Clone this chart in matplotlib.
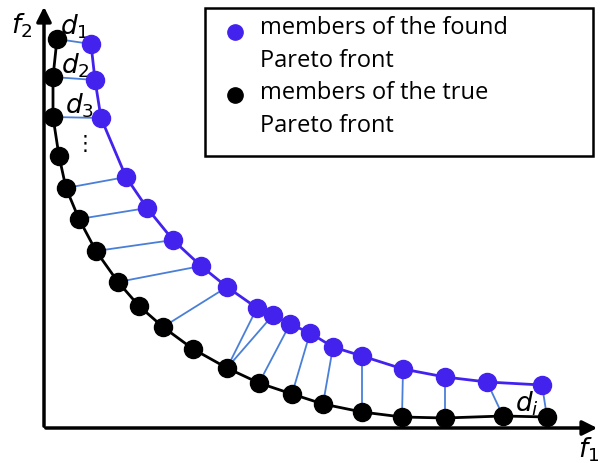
import matplotlib.pyplot as plt
from matplotlib.patches import Rectangle

# true Pareto front (f1, f2)
true_f1 = [13, 9, 9, 15, 22, 35, 52, 74, 95, 119, 149, 183, 215, 248, 279, 318, 358, 401, 459, 503]
true_f2 = [389, 351, 311, 272, 240, 209, 177, 146, 122, 101, 79, 60, 45, 34, 24, 16, 11, 10, 12, 11]

# found Pareto front (f1, f2)
found_f1 = [47, 51, 57, 82, 103, 129, 157, 183, 213, 229, 246, 266, 289, 318, 359, 401, 443, 498]
found_f2 = [384, 348, 310, 251, 220, 188, 162, 141, 120, 113, 104, 95, 81, 72, 59, 51, 46, 43]

# index of the nearest true member for each found member
nearest = [0, 1, 2, 4, 5, 6, 7, 9, 11, 11, 12, 13, 14, 15, 16, 17, 18, 19]

purple = '#4422ee'
link = '#4a7fd8'

plt.rcParams['font.family'] = ['Open Sans', 'DejaVu Sans']
plt.rcParams['mathtext.fontset'] = 'dejavusans'

fig = plt.figure(figsize=(6.03, 4.63), dpi=100)
ax = fig.add_axes([0, 0, 1, 1])
ax.set_xlim(-44, 559)
ax.set_ylim(-35, 428)
ax.axis('off')

# axes with arrows
ax.annotate('', xy=(556, 0), xytext=(-1, 0),
            arrowprops=dict(arrowstyle='-|>', color='black', lw=2.5, mutation_scale=22))
ax.annotate('', xy=(0, 424), xytext=(0, -1),
            arrowprops=dict(arrowstyle='-|>', color='black', lw=2.5, mutation_scale=22))
ax.text(545, -22, r'$f_{\mathit{1}}$', fontsize=19, ha='center', va='center')
ax.text(-22, 402, r'$f_2$', fontsize=19, ha='center', va='center')

# distances between found and true members
for i, j in enumerate(nearest):
    ax.plot([found_f1[i], true_f1[j]], [found_f2[i], true_f2[j]],
            color=link, lw=1.3, zorder=2)

ax.plot(true_f1, true_f2, color='black', lw=2, zorder=3)
ax.plot(found_f1, found_f2, color=purple, lw=2, zorder=3)
ax.plot(true_f1, true_f2, 'o', color='black', ms=13, zorder=4)
ax.plot(found_f1, found_f2, 'o', color=purple, ms=13, zorder=4)

# distance labels
ax.text(30, 401, r'$d_{\mathit{1}}$', fontsize=19, ha='center', va='center')
ax.text(31, 362, r'$d_{\mathit{2}}$', fontsize=19, ha='center', va='center')
ax.text(35, 322, r'$d_{\mathit{3}}$', fontsize=19, ha='center', va='center')
ax.text(41, 283, '⋮', fontsize=15, ha='center', va='center')
ax.text(483, 24, r'$d_i$', fontsize=19, ha='center', va='center')

# legend box
ax.add_patch(Rectangle((161, 272), 388, 148, fill=False, ec='black', lw=1.8, zorder=5))
ax.plot(191, 396, 'o', color=purple, ms=11, zorder=6)
ax.plot(191, 333, 'o', color='black', ms=11, zorder=6)
ax.text(216, 400, 'members of the found', fontsize=17, va='center')
ax.text(216, 367, 'Pareto front', fontsize=17, va='center')
ax.text(216, 335, 'members of the true', fontsize=17, va='center')
ax.text(216, 302, 'Pareto front', fontsize=17, va='center')

fig.savefig('out.png', dpi=100)
